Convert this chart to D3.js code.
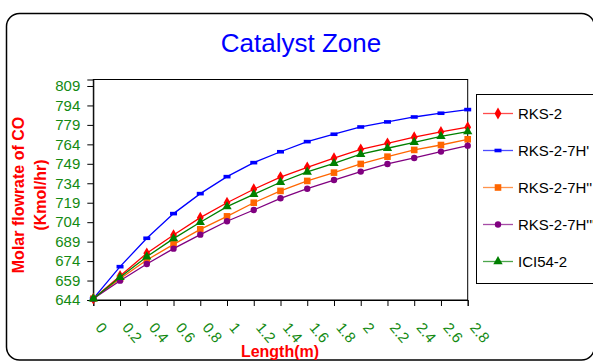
<!DOCTYPE html>
<html>
<head>
<meta charset="utf-8">
<script src="https://cdn.jsdelivr.net/npm/d3@7"></script>
<style>
  body { margin: 0; background: #fff; overflow: hidden; }
  text { font-family: "Liberation Sans", Arial, sans-serif; }
</style>
</head>
<body>
<div id="chart"></div>
<script>
// lengths along the catalyst bed (m)
const lengths = [0, 0.2, 0.4, 0.6, 0.8, 1, 1.2, 1.4, 1.6, 1.8, 2, 2.2, 2.4, 2.6, 2.8];
const yTicks = [644, 659, 674, 689, 704, 719, 734, 749, 764, 779, 794, 809];

const rks2     = [645, 662.5, 680, 694.1, 707.5, 719, 729.4, 738.8, 746.3, 753.3, 760.2, 764.8, 769.5, 773.6, 777.2];
const rks7h1   = [645, 669.7, 691.6, 710.6, 726, 739.1, 749.9, 758.3, 766.1, 771.8, 777.4, 781.3, 785.1, 788, 790.8];
const rks7h2   = [645, 660.4, 674.8, 686.9, 698.5, 708.5, 719, 728.1, 735.8, 742.2, 748.9, 754.5, 759.7, 763.5, 767.9];
const rks7h3   = [645, 658.9, 671.8, 683.6, 694.4, 704.7, 713.4, 722.4, 729.8, 736.5, 743, 748.9, 753.5, 758.4, 763];
const ici542   = [645, 661.5, 677.4, 691.3, 703.9, 716, 725.5, 734.8, 742.7, 749.4, 756.4, 761, 765.6, 770.2, 773.8];

const seriesNames = ["RKS-2", "RKS-2-7H'", "RKS-2-7H''", "RKS-2-7H'''", "ICI54-2"];
const seriesValues = [rks2, rks7h1, rks7h2, rks7h3, ici542];
const seriesColors = ["#ff0000", "#0000ff", "#ff6600", "#800080", "#008000"];
const seriesMarkers = ["diamond", "dash", "square", "circle", "triangle"];

const width = 593, height = 362;
const svg = d3.select("#chart").append("svg")
  .attr("width", width)
  .attr("height", height);

// outer chart border
svg.append("rect")
  .attr("x", 6.5).attr("y", 13.5)
  .attr("width", 588).attr("height", 346.5)
  .attr("rx", 13).attr("ry", 13)
  .attr("fill", "#fff")
  .attr("stroke", "#000")
  .attr("stroke-width", 1.5);

const x = d3.scaleLinear().domain([0, 2.8]).range([93.3, 467.7]);
const y = d3.scaleLinear().domain([644, 814]).range([300, 79.5]);

// plot frame
svg.append("rect")
  .attr("x", x(0)).attr("y", y(814))
  .attr("width", x(2.8) - x(0)).attr("height", y(644) - y(814))
  .attr("fill", "none")
  .attr("stroke", "#000")
  .attr("stroke-width", 1);

svg.append("text")
  .attr("x", 301).attr("y", 52)
  .attr("text-anchor", "middle")
  .attr("font-size", "26px")
  .attr("fill", "#0000ff")
  .text("Catalyst Zone");

// y axis
const yAxis = svg.append("g")
  .attr("transform", `translate(${x(0)},0)`)
  .call(d3.axisLeft(y).tickValues(yTicks).tickSize(6).tickPadding(7).tickFormat(d3.format("d")));
yAxis.select(".domain").attr("stroke", "#000");
yAxis.selectAll(".tick line").attr("stroke", "#000");
yAxis.selectAll(".tick text")
  .attr("fill", "#138a13")
  .attr("font-size", "15px")
  .attr("font-family", "Liberation Sans, Arial, sans-serif");

// x axis
const xAxis = svg.append("g")
  .attr("transform", `translate(0,${y(644)})`)
  .call(d3.axisBottom(x).tickValues(lengths).tickSize(6).tickFormat(d => String(d)));
xAxis.select(".domain").attr("stroke", "#000");
xAxis.selectAll(".tick line").attr("stroke", "#000");
xAxis.selectAll(".tick text")
  .attr("fill", "#138a13")
  .attr("font-size", "15px")
  .attr("font-family", "Liberation Sans, Arial, sans-serif")
  .attr("text-anchor", "start")
  .attr("y", 0).attr("dy", 0)
  .attr("transform", "translate(1,28) rotate(50)");

// axis titles
svg.append("text")
  .attr("transform", "translate(24,195) rotate(-90)")
  .attr("text-anchor", "middle")
  .attr("font-size", "16px")
  .attr("font-weight", "bold")
  .attr("fill", "#ff0000")
  .text("Molar flowrate of CO");
svg.append("text")
  .attr("transform", "translate(46,195) rotate(-90)")
  .attr("text-anchor", "middle")
  .attr("font-size", "16px")
  .attr("font-weight", "bold")
  .attr("fill", "#ff0000")
  .text("(Kmol/hr)");
svg.append("text")
  .attr("x", 280).attr("y", 357)
  .attr("text-anchor", "middle")
  .attr("font-size", "16px")
  .attr("font-weight", "bold")
  .attr("fill", "#ff0000")
  .text("Length(m)");

function drawMarker(g, type, color) {
  if (type === "diamond") {
    g.append("path").attr("d", d3.symbol().type(d3.symbolDiamond).size(40)()).attr("fill", color);
  } else if (type === "dash") {
    g.append("rect").attr("x", -3.5).attr("y", -1.8).attr("width", 7).attr("height", 3.6).attr("fill", color);
  } else if (type === "square") {
    g.append("rect").attr("x", -3.3).attr("y", -3.3).attr("width", 6.6).attr("height", 6.6).attr("fill", color);
  } else if (type === "circle") {
    g.append("circle").attr("r", 3.2).attr("fill", color);
  } else if (type === "triangle") {
    g.append("path").attr("d", d3.symbol().type(d3.symbolTriangle).size(38)()).attr("fill", color);
  }
}

const line = d3.line().x((d, i) => x(lengths[i])).y(d => y(d));

seriesValues.forEach((vals, s) => {
  svg.append("path")
    .datum(vals)
    .attr("fill", "none")
    .attr("stroke", seriesColors[s])
    .attr("stroke-width", 1.3)
    .attr("d", line);
  svg.append("g").selectAll("g")
    .data(vals)
    .join("g")
    .attr("transform", (d, i) => `translate(${x(lengths[i])},${y(d)})`)
    .each(function () { drawMarker(d3.select(this), seriesMarkers[s], seriesColors[s]); });
});

// legend (runs past the right edge, as in the original)
const legend = svg.append("g").attr("transform", "translate(476,94)");
legend.append("rect")
  .attr("x", 0.5).attr("y", 0.5)
  .attr("width", 130).attr("height", 189)
  .attr("fill", "#fff")
  .attr("stroke", "#000")
  .attr("stroke-width", 1);
seriesNames.forEach((name, s) => {
  const row = legend.append("g").attr("transform", `translate(0,${19.5 + s * 37})`);
  row.append("line")
    .attr("x1", 7).attr("x2", 37)
    .attr("stroke", seriesColors[s])
    .attr("stroke-opacity", 0.7)
    .attr("stroke-width", 1.3);
  drawMarker(row.append("g").attr("transform", "translate(22,0)"), seriesMarkers[s], seriesColors[s]);
  row.append("text")
    .attr("x", 42).attr("y", 5.5)
    .attr("font-size", "15px")
    .attr("fill", "#000")
    .text(name);
});
</script>
</body>
</html>
